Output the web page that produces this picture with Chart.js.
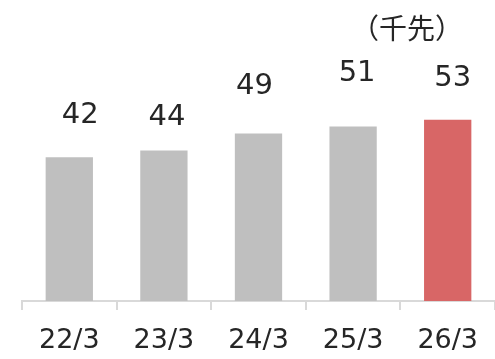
<!DOCTYPE html>
<html>
<head>
<meta charset="utf-8">
<script src="https://cdn.jsdelivr.net/npm/chart.js@4"></script>
<style>
  html, body { margin: 0; padding: 0; background: #fff; }
  #wrap { position: relative; width: 495px; height: 359px; }
  #unit { position: absolute; left: 351px; top: 7px; line-height: 1; font: 28px "Noto Sans CJK JP", sans-serif; color: #262626; }
</style>
</head>
<body>
<div id="wrap">
  <canvas id="myChart" width="495" height="359"></canvas>
  <div id="unit">（千先）</div>
</div>
<script>
// data
const categories = ['22/3', '23/3', '24/3', '25/3', '26/3'];
const values = [42, 44, 49, 51, 53];
const barColors = ['#bfbfbf', '#bfbfbf', '#bfbfbf', '#bfbfbf', '#d86666'];

// value labels are not centred over the bars in the original
const labelShiftX = [11, 3, -4, 4, 5];
const labelGap = [42, 33, 47, 53, 41];

const valueLabels = {
    id: 'valueLabels',
    afterDatasetsDraw(chart) {
        const ctx = chart.ctx;
        const meta = chart.getDatasetMeta(0);
        ctx.save();
        ctx.font = '29px "DejaVu Sans", sans-serif';
        ctx.fillStyle = '#262626';
        ctx.textAlign = 'center';
        ctx.textBaseline = 'middle';
        meta.data.forEach((bar, i) => {
            ctx.fillText(String(values[i]), bar.x + labelShiftX[i], bar.y - labelGap[i]);
        });
        ctx.restore();
    }
};

const myChart = document.getElementById('myChart');

new Chart(myChart, {
    type: 'bar',
    data: {
        labels: categories,
        datasets: [{
            data: values,
            backgroundColor: barColors,
            barPercentage: 0.5,
            categoryPercentage: 1
        }]
    },
    options: {
        responsive: false,
        animation: false,
        layout: { padding: { left: 22, right: 0, top: 0, bottom: 0 } },
        plugins: { legend: { display: false }, tooltip: { enabled: false } },
        scales: {
            y: { display: false, min: 0, max: 88 },
            x: {
                afterFit(scale) { scale.height = 58; },
                grid: {
                    drawOnChartArea: false,
                    tickLength: 9,
                    color: '#d9d9d9',
                    lineWidth: 2
                },
                border: { color: '#d9d9d9', width: 2 },
                ticks: {
                    padding: 15,
                    color: '#262626',
                    font: { family: 'DejaVu Sans', size: 27 }
                }
            }
        }
    },
    plugins: [valueLabels]
});
</script>
</body>
</html>
